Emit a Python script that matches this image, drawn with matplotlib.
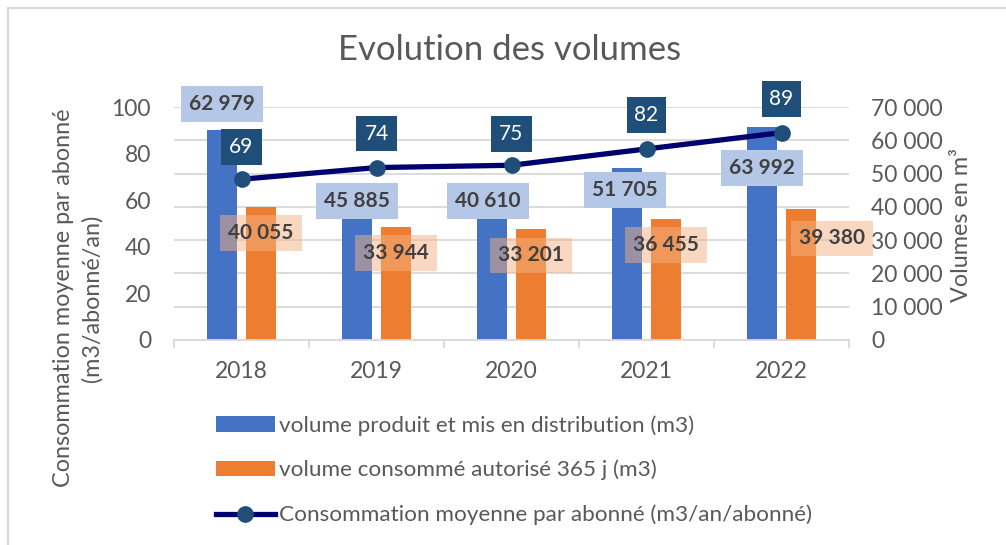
import matplotlib
matplotlib.use("Agg")
import matplotlib.pyplot as plt
from matplotlib.patches import Rectangle
import numpy as np

plt.rcParams['font.family'] = ['Lato', 'DejaVu Sans']

years = ["2018", "2019", "2020", "2021", "2022"]
vol_produit = [62979, 45885, 40610, 51705, 63992]
vol_consomme = [40055, 33944, 33201, 36455, 39380]
conso_moyenne = [69, 74, 75, 82, 89]
legend_labels = ["volume produit et mis en distribution (m3)",
                 "volume consommé autorisé 365 j (m3)",
                 "Consommation moyenne par abonné (m3/an/abonné)"]
left_ticks = [0, 20, 40, 60, 80, 100]
right_ticks = [0, 10000, 20000, 30000, 40000, 50000, 60000, 70000]

# label offsets in pixels (manual placement as in the original)
blue_lab_off = [(0, 26), (0, -13.5), (-4, 4), (-2, -22), (0, -41)]
orange_lab_off = [(0, -26), (0, -26), (0, -26), (0, -26), (31, -29.5)]
line_lab_off = [(0, 32), (0, 34), (0, 31), (0, 34), (0, 34)]

W, H = 1006, 545
fig = plt.figure(figsize=(W / 100, H / 100), dpi=100)
fig.patch.set_facecolor("white")

TXT = "#595959"
GRID = "#d9d9d9"
BLUE = "#4472C4"
ORANGE = "#ED7D31"
NAVY = "#00006E"
MARK = "#1F4E79"
FS = 16.5

x0, x1, ytop, ybot = 174, 849, 107, 340
ax = fig.add_axes([x0 / W, 1 - ybot / H, (x1 - x0) / W, (ybot - ytop) / H])
axl = ax.twinx()

x = np.arange(len(years))
bw = 0.222
off = 0.144
bars_b = ax.bar(x - off, vol_produit, bw, color=BLUE, zorder=2)
bars_o = ax.bar(x + off, vol_consomme, bw, color=ORANGE, zorder=2)
ax.set_xlim(-0.5, len(years) - 0.5)
ax.set_ylim(0, 70000)
ax.set_yticks(right_ticks)
ax.set_yticklabels([f"{v:,}".replace(",", " ") for v in right_ticks])
ax.yaxis.grid(True, color=GRID, lw=1.3, zorder=0)
ax.set_axisbelow(True)
for s in ["top", "left", "right"]:
    ax.spines[s].set_visible(False)
ax.spines["bottom"].set_color(GRID)
ax.spines["bottom"].set_linewidth(1.3)
ax.set_xticks(x)
ax.set_xticklabels(years)
ax.set_xticks(np.arange(-0.5, len(years)), minor=True)
ax.tick_params(axis='x', which='major', length=0, labelsize=FS, labelcolor=TXT, pad=15)
ax.tick_params(axis='x', which='minor', length=6, color=GRID, width=1.3)

axl.set_ylim(0, 100)
axl.set_yticks(left_ticks)
for s in ["top", "left", "right", "bottom"]:
    axl.spines[s].set_visible(False)

# right axis for volumes (bars), left axis for the line
ax.yaxis.set_ticks_position('right')
ax.tick_params(axis='y', which='both', left=False, labelleft=False, right=False,
               labelright=True, length=0, labelsize=FS, labelcolor=TXT, pad=16)
axl.yaxis.set_ticks_position('left')
axl.tick_params(axis='y', which='both', right=False, labelright=False, left=False,
                labelleft=True, length=0, labelsize=FS, labelcolor=TXT, pad=16.5)

line, = axl.plot(x, conso_moyenne, color=NAVY, lw=3.8, marker='o', ms=11,
                 mfc=MARK, mec=MARK, zorder=3)

def fmt(v):
    return f"{v:,}".replace(",", " ")

for i, v in enumerate(vol_produit):
    axl.annotate(fmt(v), (x[i] - off, v / 700.0), xytext=blue_lab_off[i], textcoords='offset pixels',
                 ha='center', va='center', fontsize=15, fontweight='bold', color="#404040",
                 bbox=dict(boxstyle="square,pad=0.38", fc="#B4C7E7", ec="none"), zorder=4)
for i, v in enumerate(vol_consomme):
    axl.annotate(fmt(v), (x[i] + off, v / 700.0), xytext=orange_lab_off[i], textcoords='offset pixels',
                 ha='center', va='center', fontsize=15, fontweight='bold', color="#404040",
                 bbox=dict(boxstyle="square,pad=0.38", fc="#F4B183", ec="none", alpha=0.5), zorder=4)
for i, v in enumerate(conso_moyenne):
    axl.annotate(str(v), (x[i], v), xytext=line_lab_off[i], textcoords='offset pixels',
                 ha='center', va='center', fontsize=15, color="white",
                 bbox=dict(boxstyle="square,pad=0.38", fc=MARK, ec="none"), zorder=5)

fig.text(510 / W, 1 - 50 / H, "Evolution des volumes", ha='center', va='center',
         fontsize=25, color=TXT)
fig.text(78 / W, 1 - 298 / H, "Consommation moyenne par abonné\n(m3/abonné/an)",
         rotation=90, ha='center', va='center', multialignment='center',
         fontsize=16.8, color=TXT, linespacing=1.4)
fig.text(962 / W, 1 - 225 / H, "Volumes en m³", rotation=90, ha='center', va='center',
         fontsize=16.8, color=TXT)

leg = fig.legend([bars_b, bars_o, line], legend_labels, loc='upper left',
                 bbox_to_anchor=(216 / W, 1 - 415 / H), frameon=False, fontsize=16.2,
                 handlelength=2.6, handletextpad=0.2, labelspacing=1.08,
                 borderpad=0, borderaxespad=0, labelcolor=TXT)

fig.patches.append(Rectangle((8 / W, -0.05), 1.1, 1.05 - 8 / H, transform=fig.transFigure,
                             fill=False, ec=GRID, lw=1.5))

fig.savefig("out.png", dpi=100, facecolor="white")
